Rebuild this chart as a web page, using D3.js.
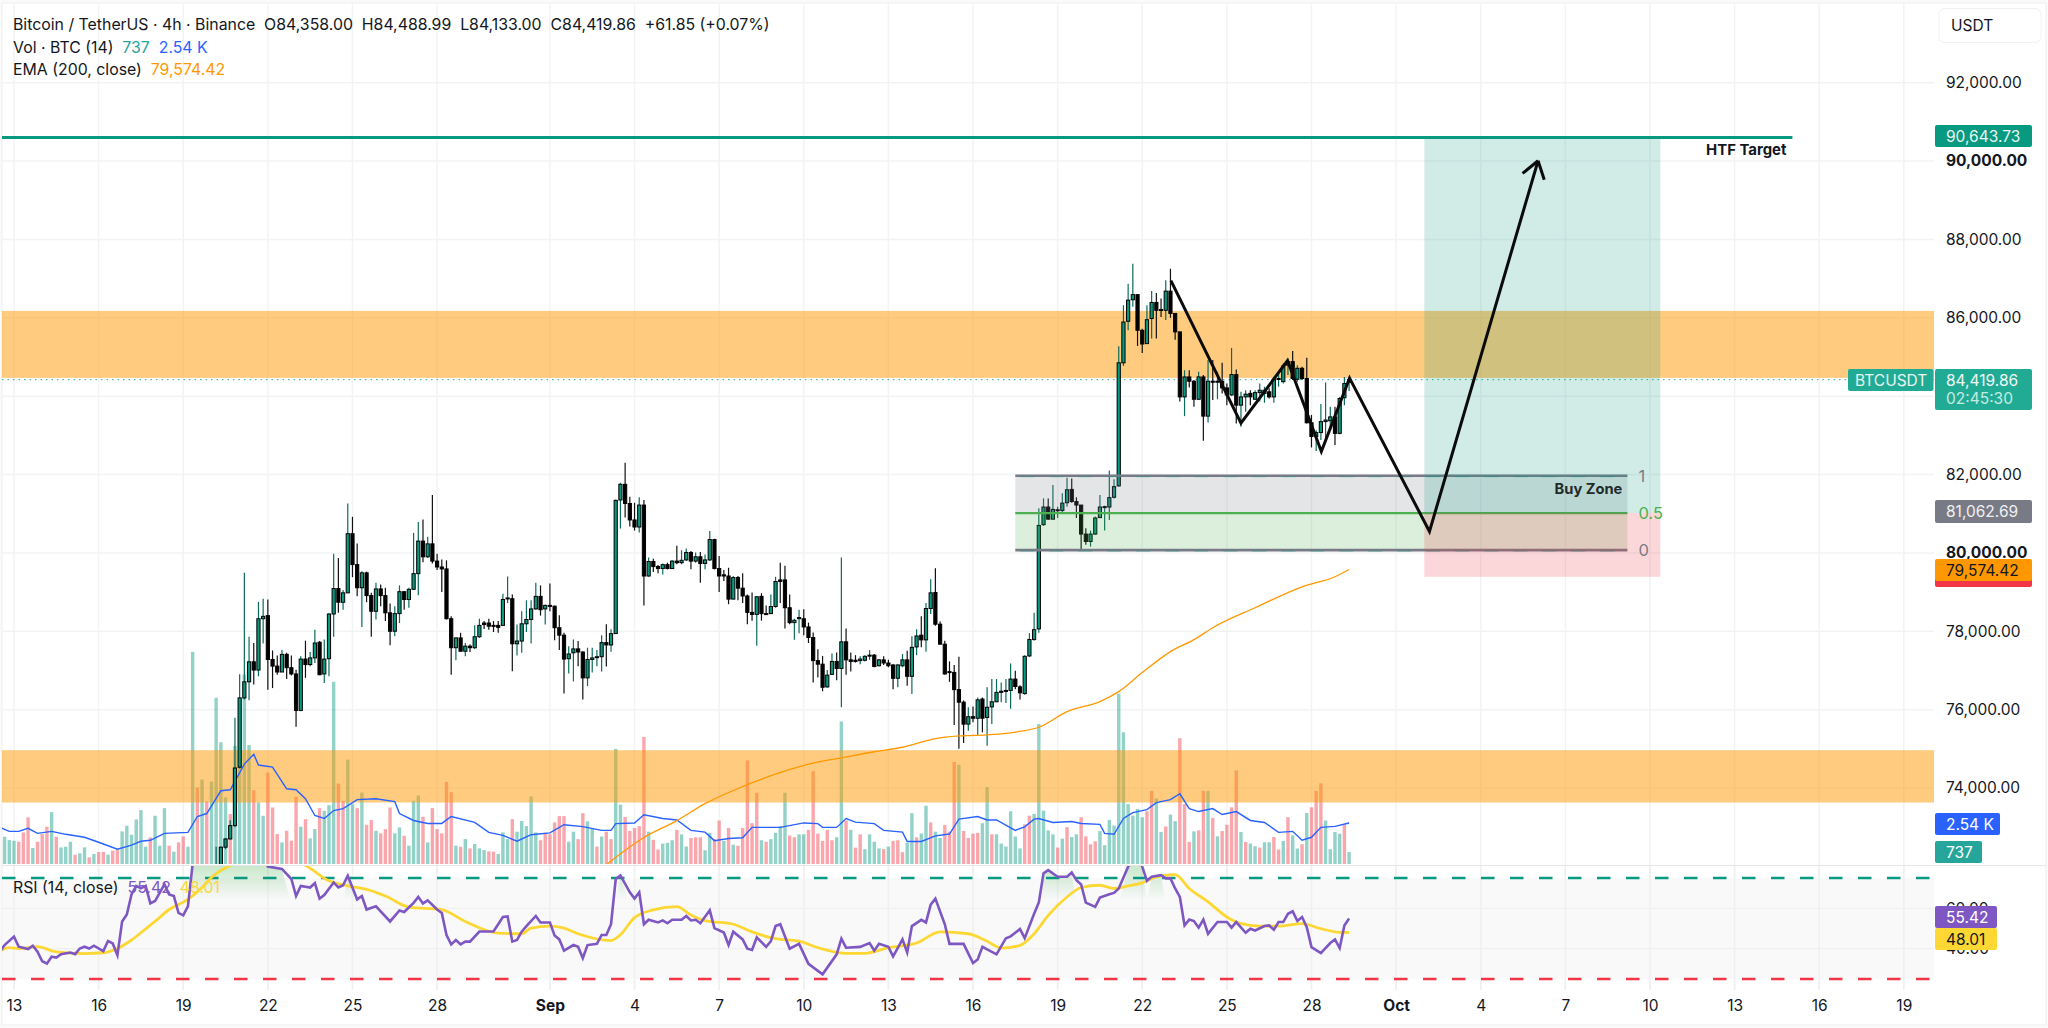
<!DOCTYPE html>
<html>
<head>
<meta charset="utf-8">
<title>BTCUSDT 4h</title>
<script src="https://cdn.jsdelivr.net/npm/d3@7"></script>
<style>
  html, body { margin: 0; padding: 0; background: #fafafa; }
  svg { display: block; font-family: Inter, "Noto Sans", sans-serif; }
  .domain { display: none; }
</style>
</head>
<body>
<svg id="chart" width="2048" height="1028"></svg>
<script>
// candle index 0 = Aug 13 00:00, six 4h bars a day. Candles before 43 sit under the pane.
var candleStart = 43;
var opens = [
  71800,72000,72490,72700,73040,74530,76300,76710,77220,77010,78320,78400,77280,77110,76960,77410,77070,
  76910,75980,77290,77150,77320,77720,76910,77300,78440,79090,78740,78980,80490,79700,79110,79490,78910,
  78510,79080,78910,78470,78000,78450,79010,78810,79070,79470,80300,79900,80230,79790,79640,79590,78320,
  77580,77830,77490,77620,77580,77860,78210,78210,78150,78150,78150,78830,78830,77680,77750,78190,78300,
  78570,78890,78570,78660,78640,78090,77900,77300,77450,77550,77470,76810,77280,77330,77350,77710,77650,
  77940,81350,81750,81260,80840,80660,81220,79410,79780,79650,79600,79700,79600,79790,79750,79820,80010,
  79790,79900,79730,79820,80340,79600,79440,79410,78820,79370,79100,78900,78480,78430,78890,78450,78450,
  78630,79310,79310,78600,78220,78320,78320,78110,77840,77250,77160,76580,76900,77230,77050,77730,77270,
  77260,77250,77260,77370,77390,77120,77270,77190,77140,76800,77120,77270,76850,77600,77900,77780,78580,
  78990,78180,77670,76970,76950,76510,76190,75630,75820,75780,76270,75800,76070,76200,76440,76470,76490,
  76780,76580,76410,77370,77790,78060,80720,81170,80860,81100,81080,81280,81620,81310,81220,80480,80290,
  80480,80900,81170,81170,81420,81710,84850,85910,86460,86590,85680,85340,85980,86390,86210,86190,86680,
  86110,85640,83980,84490,84380,83920,84490,83490,84380,84370,84380,84210,84030,84550,83770,83980,84070,
  83920,84090,84070,84110,83980,84430,84370,84790,84880,84430,84710,84450,83320,82970,83070,83350,83370,
  83470,83050,83960,84358
];
var highs = [
  72500,72500,72720,73180,75790,76900,79490,77860,77700,78750,78830,78810,77510,77380,77520,77450,77380,
  77020,77360,77760,77470,78040,77750,77790,78460,79980,79870,79050,81260,80920,80240,79530,79520,78980,
  79240,79190,79110,78710,78640,79170,79020,79110,80510,80790,80850,80410,81480,79980,79830,79810,78380,
  77840,77960,77700,77660,78150,78320,78260,78320,78260,78260,78960,79400,78940,78170,78510,78790,78790,
  79240,79170,78680,79220,78660,78410,77960,77620,77790,77750,77490,77580,77580,77520,77900,78180,78050,
  81360,81790,82300,81430,81280,81420,81350,79880,79850,79690,79730,79750,79810,80180,80070,80110,80050,
  80010,80020,79960,80560,80360,79920,79560,79620,79410,79410,79480,78940,78990,78900,78970,78660,78940,
  79390,79750,79670,78940,78320,78550,78560,78220,77970,77540,77370,77010,77430,77460,79880,78070,77460,
  77390,77360,77390,77520,77420,77290,77360,77270,77160,77160,77420,77500,77870,78050,78380,78720,79330,
  79610,78250,77760,77230,77140,77350,76230,76060,76080,76310,76310,76570,76780,76780,76690,76780,77180,
  76990,76620,77390,77950,78470,81140,81390,81390,81730,81180,81520,81920,81900,81420,81220,80630,80570,
  80930,81480,81200,82100,81880,85270,86320,86870,87380,86590,85720,86320,86680,86630,86490,86960,87250,
  86110,85640,84660,84660,84410,84620,84540,84920,84920,84620,84850,84320,85230,84680,84110,84150,84150,
  84150,84320,84240,84200,84490,84560,84830,84960,85150,84790,84750,84980,83520,83130,83800,84350,83730,
  83730,83980,84490,84489
];
var lows = [
  71500,71800,72440,72690,73000,74500,76260,76240,76640,76850,77690,76510,76550,76890,76960,76780,76870,
  75560,75960,76810,77110,77190,76880,76680,76850,77860,78470,78550,78980,79380,78890,78110,78740,77860,
  78300,78640,78260,77640,77870,78210,78550,78600,79070,78920,79760,79870,79730,79560,79000,78300,76890,
  77260,77480,77360,77470,77550,77830,78060,78040,77980,77960,78150,78720,76980,77380,77450,77980,77690,
  78550,78400,78170,78510,77770,77520,76410,76920,76720,77110,76260,76600,76950,77110,76970,77100,77480,
  77930,80620,80900,80670,80570,80520,78660,79390,79510,79480,79450,79580,79600,79710,79710,79790,79580,
  79750,79240,79580,79790,79580,79000,79280,78690,78820,78790,78720,78180,78270,77630,78270,78420,78440,
  78600,78720,78070,78180,77780,77950,77900,77700,76690,76820,76470,76560,76890,76750,76060,76890,76970,
  77200,77160,77230,77270,77080,77100,77140,77080,76520,76570,77080,76610,76400,77390,77590,77480,78440,
  78140,77670,76890,76710,75610,75000,75150,75460,75680,75360,75420,75080,75630,76190,76190,76170,76020,
  76520,76260,76380,77340,77760,77960,80690,80850,80860,80890,81010,81180,81280,80890,80100,80210,80160,
  80460,80890,80570,80840,81390,81690,84770,85680,86280,85280,85100,85330,85470,85470,86020,85940,86000,
  85440,83860,83490,84220,83730,83900,82860,83330,83900,83920,84070,83770,84010,83300,83220,83600,83770,
  83920,83860,83830,83940,83830,84240,84320,84540,84410,84370,84410,83300,82690,82600,82880,82920,83220,
  82750,83030,83770,84133
];
var closes = [
  72000,72490,72700,73040,74510,76300,76710,77220,77010,78320,78380,77280,77110,76960,77410,77070,76910,
  75980,77290,77150,77320,77700,76890,77290,78440,79090,78740,78980,80490,79700,79110,79490,78910,78510,
  79080,78910,78470,78000,78450,79010,78810,79070,79470,80300,79900,80230,79790,79640,79590,78320,77580,
  77830,77490,77620,77580,77860,78150,78170,78130,78130,78100,78810,78850,77680,77750,78190,78300,78570,
  78890,78550,78660,78640,78090,77900,77290,77420,77550,77470,76810,77280,77320,77350,77710,77650,77940,
  81340,81750,81260,80840,80660,81220,79410,79780,79650,79600,79700,79600,79790,79750,79810,80010,79790,
  79900,79730,79820,80340,79600,79410,79410,78820,79370,79100,78900,78480,78430,78880,78450,78440,78630,
  79270,79270,78600,78220,78280,78350,78110,77840,77250,77160,76570,76880,77230,77050,77730,77270,77230,
  77230,77290,77360,77390,77100,77270,77190,77120,76800,77140,77270,76850,77590,77880,77780,78580,78980,
  78180,77670,76910,76950,76510,76190,75630,75820,75780,76250,75780,76060,76200,76440,76470,76490,76780,
  76590,76430,77360,77790,78040,80700,81170,80860,81110,81100,81270,81610,81310,81220,80480,80290,80480,
  80890,81170,81180,81410,81690,84850,85890,86450,86590,85680,85330,85950,86390,86190,86190,86680,86110,
  85640,83980,84490,84380,83920,84490,83490,84380,84370,84380,84210,84030,84550,83770,83980,84050,83980,
  84090,84150,84150,83980,84430,84450,84770,84880,84450,84710,84450,83320,82970,83070,83350,83390,83470,
  83050,83940,84320,84420
];

// volume bars start two bars left of Aug 13
var volumeStart = -2;
var volumes = [
  1689,1483,1442,1380,1957,2884,989,1380,1854,2307,3214,1689,1030,1071,1380,577,659,1030,412,618,742,742,577,824,906,
  2019,2369,1813,2760,3337,1071,1648,2987,1133,3461,1133,762,1339,1710,1071,13143,4738,5232,3873,5109,10300,7540,4120,
  3090,7313,5974,11742,7375,4573,3811,2987,5665,3502,1854,1339,2060,1442,4161,2307,2781,1586,2163,3461,3296,3646,11289,
  4985,3914,6468,3708,3461,4429,2431,2719,2060,1895,2163,3502,1895,2266,1751,1133,3914,4244,2925,1339,3461,2163,1895,
  5088,4450,1133,1071,1545,968,1236,968,865,783,762,618,1957,1545,2781,1998,
  2668,2346,4186,1955,1472,1932,1840,2576,2967,2967,1380,2001,1541,3151,2645,2231,1081,1702,2001,1541,7130,3680,2921,
  2047,2231,2346,7866,2001,1495,897,1265,1311,1472,2116,1840,1081,1610,1656,1656,851,1932,1541,2691,1426,2231,1196,1127,
  2231,6417,2530,4416,1472,1380,1541,1932,2346,4416,1771,1656,1840,1840,2116,5750,1886,1426,2116,1472,1656,8832,2691,
  2116,1012,1840,920,1840,1380,966,920,1081,1426,1472,736,1311,3151,1656,1886,3611,2576,2001,1610,2415,2001,6325,6141,
  2047,1610,1886,1932,2530,4761,1840,1840,1265,1081,3266,1702,966,2461,2990,3105,8671,
  3305,2081,1836,1020,1571,2285,1673,1836,2897,1714,1224,1408,2040,1163,2734,2387,10547,8160,3713,2999,3407,2897,3264,
  4529,4060,1979,2326,3060,2652,7793,3713,1367,2020,2081,4529,4529,2856,1714,2040,2428,3509,5794,1979,1367,1265,1102,
  1020,1346,1346,1673,898,1428,2897,1775,959,1224,3162,3509,4529,4998,2693,918,1979,1877,2448,737
];
// 1 = green bar, 0 = red bar
var volumeUp = [
  1,1,1,0,0,0,1,0,0,0,1,0,1,1,1,0,1,1,0,1,0,0,1,0,0,
  1,1,1,1,1,1,0,1,1,1,0,1,0,0,1,1,0,1,0,1,1,1,1,
  0,1,1,1,1,0,1,1,0,0,0,1,0,0,0,1,0,1,1,0,1,1,1,
  0,0,1,1,0,1,0,0,1,0,0,0,1,1,0,1,1,1,0,1,0,0,0,
  0,0,1,0,1,0,1,1,1,0,0,1,1,1,0,1,
  1,1,1,1,0,0,0,0,0,0,1,1,0,0,1,1,0,1,0,0,1,1,0,
  0,0,0,0,1,0,0,1,1,1,0,1,1,0,0,0,1,1,0,0,1,0,1,0,0,
  0,0,0,1,0,1,1,1,1,0,0,1,1,0,0,0,0,0,0,1,1,0,1,0,
  0,1,1,1,1,0,1,0,0,0,1,1,0,1,1,0,1,1,0,0,0,1,0,0,
  0,0,1,1,0,1,1,1,1,1,1,0,0,1,1,1,1,
  1,0,1,0,1,1,0,0,0,0,1,1,1,1,1,1,1,1,1,1,0,0,1,
  1,0,1,1,0,0,0,1,0,0,1,0,1,0,0,0,0,1,0,1,1,0,1,
  1,0,0,1,0,1,1,0,1,0,0,0,1,1,1,1,0,1,1,1
];
var volMaIdx = [-3,-1,1,3,5,8,11,15,18,22,25,27,29,32,37,39,41,44,46,49,51,52,55,58,60,62,64,66,68,70,73,77,81,82,85,88,91,93,98,101,104,107,
  110,114,117,121,125,127,128,132,134,138,141,144,147,149,152,155,157,163,168,171,172,175,177,179,183,185,189,190,193,196,199,201,205,207,209,213,215,217,218,
  221,225,227,231,232,234,236,238,241,243,246,248,250,252,255,257,260,263,266,269,272,274,276,278,281,284];
var volMa = [2268,2023,2023,2207,1900,2023,1839,1655,1349,920,1165,1410,1471,1900,1962,2942,3126,4536,4598,6191,6804,6130,6007,4659,4598,4046,3004,2820,3310,3433,3985,4046,3862,3126,2697,2513,2513,2942,2575,1962,1778,1410,
  1814,1925,2434,2317,2084,2084,2501,2544,3053,2820,2728,2084,1974,1447,1582,1624,2268,2268,2544,2501,2268,2268,2820,2593,2501,2084,1974,1398,1398,1741,1857,2777,2942,2728,2728,2084,2301,2777,2820,
  2575,2636,2513,2452,1900,1839,2820,3188,3372,3800,3985,4352,3433,3249,3433,3065,3249,2697,2575,1962,2023,1471,1655,2268,2329,2540];

var emaIdx = [126,134,141,147,153,159,164,170,176,183,189,196,201,207,214,218,224,231,235,240,246,251,255,264,274,281,284];
var ema = [72045,72736,73168,73600,73936,74224,74435,74637,74771,74925,75040,75261,75328,75357,75443,75550,75950,76205,76460,76945,77480,77785,78090,78600,79135,79390,79574.42];

var rsiIdx = [-3,-2,0,1,3,4,5,6,7,8,9,10,12,13,14,15,16,17,19,20,21,22,23,24,25,26,27,28,29,30,32,33,34,35,36,37,38,39,41,44,48,51,53,54,57,59,60,61,63,64,65,66,68,69,70,71,73,74,75,77,78,80,82,83,85,86,87,88,90,91,92,93,94,95,96,97,99,101,102,104,105,106,107,
  108,109,111,112,114,115,116,117,119,120,121,122,124,125,126,127,128,129,131,132,133,134,135,137,138,139,140,142,143,144,145,146,148,149,151,152,153,155,156,157,158,160,161,162,163,165,167,169,172,175,176,177,180,182,183,184,186,187,189,190,191,193,194,195,196,198,199,202,204,205,206,209,211,212,214,215,217,218,
  219,220,222,224,225,226,227,228,230,231,233,234,235,237,239,240,241,242,244,245,246,247,248,249,250,251,252,253,254,256,258,259,260,262,263,264,266,267,268,269,270,271,272,273,274,275,276,278,280,281,282,283,284];
var rsi = [38.5,41.8,46,41,39.8,41.5,38.5,33.8,32.6,36,35.6,37.3,38.1,37.3,40.1,41,40.1,41.5,38.8,43.8,42.6,36.8,53.5,56.9,66.9,71.1,69.9,71.1,62.4,63.6,71.9,66.9,66.1,57.7,56.5,61,82,86,90,92,93,88,85,80.7,79.5,74.5,66.1,71.1,70.3,72.5,64.8,66.6,72.8,70.3,71.4,76.1,64.4,66.1,59.4,61,58.5,53.5,58.9,58.2,62.7,65.6,62.4,63.9,59.4,57.7,46.8,42.1,44.3,42.1,43.5,43.5,48.5,48.5,48.5,55.7,56,43.5,44.3,
  48.4,51.2,56.2,53,53,46.5,44.6,39,41.8,40.9,35.3,41.8,42.4,46.8,46.8,52.1,74.5,76.3,67.9,64.8,67.9,52.1,54.3,53,54,52.6,54.3,54.3,56.2,54,54.3,52.6,59,50.2,48,41.8,48.4,44.6,40,39.4,45.6,40.9,43.7,51.2,52.1,40,42.4,32.5,27.3,37.2,45,40.5,40.9,42.8,39,42.4,40.9,36.2,44.6,38.1,51.2,54.3,53,61.8,64.8,52.1,42.4,42.4,32.9,34.7,40.9,37.2,45.2,46.1,49.7,45.2,57.3,62.9,77.3,
  78.9,75.6,75.6,77.7,73.9,71.8,62.8,60.7,65.3,67,67.6,69.8,80.6,87.2,80.6,73.6,75.6,76.4,74.8,74.8,69.8,65.6,51.5,54.4,53.7,50.4,54.4,47.4,53.2,53.2,50.4,53.2,47.9,49.9,49,51.2,51.5,49.4,53.2,53.2,57.3,58.5,53.7,55.7,50.7,40.8,37.8,42.8,44.6,40.3,51.5,54.9,55.42];
var rsiMaIdx = [-3,-1,1,5,9,15,19,22,25,28,30,33,37,40,42,46,48,50,54,58,62,67,71,75,79,84,91,96,103,108,110,114,117,120,127,129,132,136,141,144,147,153,157,162,167,171,177,181,186,192,197,203,207,210,214,217,220,224,227,231,234,237,240,243,247,250,254,258,261,265,269,274,278,282,284];
var rsiMa = [38.9,40.5,40.1,41,38.4,37.6,38,40.1,44.3,49.8,53.5,59.4,64.4,70.3,75.3,81.2,83,85,86,84,81.2,73.6,71.1,69.4,66.1,60.6,59.4,53.5,47.7,47.4,50.2,51.2,50.2,47.4,44,46.9,55.4,59.2,60.8,56.7,53.9,52.1,48.3,45,43.7,40.5,37.7,37.7,40.5,42.8,48.3,47.4,43.7,40.3,41.6,47.4,56.5,65.6,70.3,71.4,69.8,71.1,72.6,75.6,76.7,69.8,63.2,55.7,52.4,51.2,51.2,52.4,49.9,48.1,48.01];

// axis ticks
var priceTicks = [92000,90000,88000,86000,84000,82000,80000,78000,76000,74000];
var boldPrices = [90000,80000];
var rsiTicks = [60,40];
var dayTicks = [0,3,6,9,12,15,19,22,25,28,31,34,37,40,43,46,49,52,55,58,61,64,67];
var dayLabels = ["13","16","19","22","25","28","Sep","4","7","10","13","16","19","22","25","28","Oct","4","7","10","13","16","19"];

// drawings, as [bar index, price]
var zoneUpper = [86175, 84465];
var zoneLower = [74965, 73630];
var targetPrice = 90600;
var entryPrice = 81020;
var stopPrice = 79390;
var positionBars = [300, 350.2];
var fibBars = [213, 343.2];
var fibLevels = [81968, 81015, 80070];
var targetLineEnd = 378.3;
var pathBars = [246.1, 261, 270.9, 278.1, 284.1, 301.1, 324.2];
var pathPrices = [86947, 83311, 84907, 82587, 84458, 80547, 90007];

var teal = "#089981", red = "#f23645", gridColor = "#f2f3f4";
var paneRight = 1934, paneTop = 4, paneBottom = 864, rsiBottom = 990;

var svg = d3.select("#chart");
var x = d3.scaleLinear().domain([0, 402]).range([14, 14 + 402 * 4.701]);
var y = d3.scaleLinear().domain([90000, 74000]).range([161, 788]);
var yVol = d3.scaleLinear().domain([0, 2540]).range([864, 823]);
var yRsi = d3.scaleLinear().domain([25, 75]).range([979, 878]);

var defs = svg.append("defs");
defs.append("clipPath").attr("id", "mainClip").append("rect")
  .attr("x", 2).attr("y", paneTop).attr("width", paneRight - 2).attr("height", paneBottom - paneTop);
defs.append("clipPath").attr("id", "rsiClip").append("rect")
  .attr("x", 2).attr("y", 866).attr("width", paneRight - 2).attr("height", rsiBottom - 866);
var grad = defs.append("linearGradient").attr("id", "obFill")
  .attr("gradientUnits", "userSpaceOnUse").attr("x1", 0).attr("x2", 0).attr("y1", 866).attr("y2", 900);
grad.append("stop").attr("offset", 0).attr("stop-color", "#4caf50").attr("stop-opacity", 0.3);
grad.append("stop").attr("offset", 1).attr("stop-color", "#4caf50").attr("stop-opacity", 0);

// frame
svg.append("rect").attr("x", 2).attr("y", 3).attr("width", 2044).attr("height", 1022)
  .attr("fill", "#fff").attr("stroke", "#ededee");

// grid
var grid = svg.append("g");
grid.selectAll(".hg").data(priceTicks).enter().append("line")
  .attr("x1", 2).attr("x2", paneRight).attr("y1", y).attr("y2", y)
  .attr("stroke", gridColor).attr("stroke-width", 1.5);
grid.selectAll(".vg").data(dayTicks).enter().append("line")
  .attr("x1", function(d) { return x(d * 6); }).attr("x2", function(d) { return x(d * 6); })
  .attr("y1", 4).attr("y2", rsiBottom)
  .attr("stroke", gridColor).attr("stroke-width", 1.5);

var main = svg.append("g").attr("clip-path", "url(#mainClip)");

// volume
main.selectAll(".vol").data(volumes).enter().append("rect")
  .attr("x", function(d, i) { return x(i + volumeStart) - 1.7; })
  .attr("width", 3.4)
  .attr("y", function(d) { return yVol(d); })
  .attr("height", function(d) { return 864 - yVol(d); })
  .attr("fill", function(d, i) { return volumeUp[i] ? teal : red; })
  .attr("fill-opacity", 0.44);

// orange zones
[zoneUpper, zoneLower].forEach(function(z) {
  main.append("rect").attr("x", 2).attr("width", paneRight - 2)
    .attr("y", y(z[0])).attr("height", y(z[1]) - y(z[0]))
    .attr("fill", "#ff9800").attr("fill-opacity", 0.5);
});

// volume average
main.append("path")
  .datum(volMa)
  .attr("fill", "none").attr("stroke", "#2962ff").attr("stroke-width", 1.4)
  .attr("d", d3.line().x(function(d, i) { return x(volMaIdx[i]); }).y(function(d) { return yVol(d); }));

// last price dotted line
main.append("line").attr("x1", 2).attr("x2", paneRight)
  .attr("y1", y(closes[closes.length - 1])).attr("y2", y(closes[closes.length - 1]))
  .attr("stroke", "#22ab94").attr("stroke-width", 1).attr("stroke-dasharray", "1.5,4");

// candles
var candle = main.selectAll(".candle").data(closes).enter().append("g");
candle.append("line")
  .attr("x1", function(d, i) { return x(i + candleStart); })
  .attr("x2", function(d, i) { return x(i + candleStart); })
  .attr("y1", function(d, i) { return y(highs[i]); })
  .attr("y2", function(d, i) { return y(lows[i]); })
  .attr("stroke", function(d, i) { return d >= opens[i] ? "#0b6b5c" : "#111"; })
  .attr("stroke-width", 1.2);
candle.append("rect")
  .attr("x", function(d, i) { return x(i + candleStart) - 1.6; })
  .attr("width", 3.2)
  .attr("y", function(d, i) { return y(Math.max(d, opens[i])); })
  .attr("height", function(d, i) { return Math.max(Math.abs(y(d) - y(opens[i])), 1); })
  .attr("fill", function(d, i) { return d >= opens[i] ? teal : "#000"; })
  .attr("stroke", "#000").attr("stroke-width", 1);

// EMA 200
main.append("path")
  .datum(ema)
  .attr("fill", "none").attr("stroke", "#ff9800").attr("stroke-width", 1.3)
  .attr("d", d3.line().x(function(d, i) { return x(emaIdx[i]); }).y(function(d) { return y(d); })
    .curve(d3.curveMonotoneX));

// buy zone fib
var fx0 = x(fibBars[0]), fx1 = x(fibBars[1]);
main.append("rect").attr("x", fx0).attr("width", fx1 - fx0)
  .attr("y", y(fibLevels[0])).attr("height", y(fibLevels[1]) - y(fibLevels[0]))
  .attr("fill", "#787b86").attr("fill-opacity", 0.2);
main.append("rect").attr("x", fx0).attr("width", fx1 - fx0)
  .attr("y", y(fibLevels[1])).attr("height", y(fibLevels[2]) - y(fibLevels[1]))
  .attr("fill", "#4caf50").attr("fill-opacity", 0.2);
[fibLevels[0], fibLevels[2]].forEach(function(p) {
  main.append("line").attr("x1", fx0).attr("x2", fx1).attr("y1", y(p)).attr("y2", y(p))
    .attr("stroke", "#787b86").attr("stroke-width", 2.6);
  main.append("line").attr("x1", fx0 + 5).attr("x2", fx1).attr("y1", y(p) + 1).attr("y2", y(p) + 1)
    .attr("stroke", teal).attr("stroke-opacity", 0.4).attr("stroke-width", 1).attr("stroke-dasharray", "14,15");
});
main.append("line").attr("x1", fx0).attr("x2", fx1).attr("y1", y(fibLevels[1])).attr("y2", y(fibLevels[1]))
  .attr("stroke", "#4caf50").attr("stroke-width", 2.4);

// long position box
var px0 = x(positionBars[0]), px1 = x(positionBars[1]);
main.append("rect").attr("x", px0).attr("width", px1 - px0)
  .attr("y", y(targetPrice)).attr("height", y(entryPrice) - y(targetPrice))
  .attr("fill", teal).attr("fill-opacity", 0.19);
main.append("rect").attr("x", px0).attr("width", px1 - px0)
  .attr("y", y(entryPrice)).attr("height", y(stopPrice) - y(entryPrice))
  .attr("fill", red).attr("fill-opacity", 0.2);

// fib labels
function fibLabel(txt, p, color) {
  main.append("text").attr("x", fx1 + 11).attr("y", y(p)).attr("dy", "0.36em")
    .attr("font-size", 16.5).attr("fill", color).text(txt);
}
fibLabel("1", fibLevels[0], "#787b86");
fibLabel("0.5", fibLevels[1], "#4caf50");
fibLabel("0", fibLevels[2], "#787b86");
main.append("text").attr("x", fx1 - 5).attr("y", y(fibLevels[0]) + 13).attr("dy", "0.36em")
  .attr("text-anchor", "end").attr("font-size", 14.7).attr("font-weight", 700)
  .attr("fill", "#1f2a2a").text("Buy Zone");

// target line
main.append("line").attr("x1", 2).attr("x2", x(targetLineEnd))
  .attr("y1", y(targetPrice)).attr("y2", y(targetPrice))
  .attr("stroke", teal).attr("stroke-width", 3);
main.append("text").attr("x", x(targetLineEnd) - 6).attr("y", y(targetPrice) + 12).attr("dy", "0.36em")
  .attr("text-anchor", "end").attr("font-size", 14.9).attr("font-weight", 700)
  .attr("fill", "#131722").text("HTF Target");

// hand drawn path with arrow head
main.append("path")
  .datum(pathBars)
  .attr("fill", "none").attr("stroke", "#0b0b0b").attr("stroke-width", 3).attr("stroke-linejoin", "miter")
  .attr("d", d3.line().x(function(d) { return x(d); }).y(function(d, i) { return y(pathPrices[i]); }));
var n = pathBars.length;
var tipX = x(pathBars[n - 1]), tipY = y(pathPrices[n - 1]);
var ang = Math.atan2(tipY - y(pathPrices[n - 2]), tipX - x(pathBars[n - 2]));
[-0.6, 0.6].forEach(function(off) {
  main.append("line").attr("x1", tipX).attr("y1", tipY)
    .attr("x2", tipX - 20 * Math.cos(ang + off)).attr("y2", tipY - 20 * Math.sin(ang + off))
    .attr("stroke", "#0b0b0b").attr("stroke-width", 3);
});

// RSI pane
svg.append("line").attr("x1", 2).attr("x2", 2046).attr("y1", 865.5).attr("y2", 865.5).attr("stroke", "#e6e6e8");
var pane = svg.append("g").attr("clip-path", "url(#rsiClip)");
pane.append("rect").attr("x", 2).attr("width", paneRight - 2)
  .attr("y", yRsi(75)).attr("height", yRsi(25) - yRsi(75)).attr("fill", "#f7f7f8").attr("fill-opacity", 0.75);
pane.selectAll(".rg").data(rsiTicks).enter().append("line")
  .attr("x1", 2).attr("x2", paneRight).attr("y1", yRsi).attr("y2", yRsi)
  .attr("stroke", "#eeeeef");
pane.selectAll(".rv").data(dayTicks).enter().append("line")
  .attr("x1", function(d) { return x(d * 6); }).attr("x2", function(d) { return x(d * 6); })
  .attr("y1", 866).attr("y2", rsiBottom)
  .attr("stroke", "#f0f0f1").attr("stroke-width", 1.5);
pane.append("path")
  .datum(rsi)
  .attr("fill", "url(#obFill)")
  .attr("d", d3.area()
    .x(function(d, i) { return x(rsiIdx[i]); })
    .y0(yRsi(62))
    .y1(function(d) { return d >= 75 ? yRsi(d) : yRsi(62); }));
[[75, teal], [25, red]].forEach(function(l) {
  pane.append("line").attr("x1", 2).attr("x2", paneRight)
    .attr("y1", yRsi(l[0])).attr("y2", yRsi(l[0]))
    .attr("stroke", l[1]).attr("stroke-width", 2.4).attr("stroke-dasharray", "13.5,15.5");
});
pane.append("path")
  .datum(rsiMa)
  .attr("fill", "none").attr("stroke", "#fdd835").attr("stroke-width", 2.8)
  .attr("d", d3.line().x(function(d, i) { return x(rsiMaIdx[i]); }).y(function(d) { return yRsi(d); })
    .curve(d3.curveMonotoneX));
pane.append("path")
  .datum(rsi)
  .attr("fill", "none").attr("stroke", "#7e57c2").attr("stroke-width", 2.6)
  .attr("d", d3.line().x(function(d, i) { return x(rsiIdx[i]); }).y(function(d) { return yRsi(d); }));

// legend rows
function legend(px, py, parts) {
  var t = svg.append("text").attr("x", px).attr("y", py).attr("dy", "0.36em")
    .attr("font-size", 15.85).attr("fill", "#131722").attr("xml:space", "preserve");
  parts.forEach(function(p) {
    t.append("tspan").attr("fill", p[1] || "#131722").text(p[0]);
  });
}
legend(13, 24, [["Bitcoin / TetherUS \u00b7 4h \u00b7 Binance  O84,358.00  H84,488.99  L84,133.00  C84,419.86  +61.85 (+0.07%)"]]);
legend(13, 47, [["Vol \u00b7 BTC (14)  "], ["737", "#26a69a"], ["  "], ["2.54 K", "#2962ff"]]);
legend(13, 69, [["EMA (200, close)  "], ["79,574.42", "#ff9800"]]);
legend(13, 887, [["RSI (14, close)  "], ["55.42", "#7e57c2"], ["  "], ["48.01", "#fdd835"]]);

// price axis
var priceAxis = d3.axisRight(y).tickValues(priceTicks).tickSize(0).tickPadding(0)
  .tickFormat(d3.format(",.2f"));
var gPrice = svg.append("g").attr("transform", "translate(1946,0)").call(priceAxis);
gPrice.selectAll("text")
  .attr("font-family", "Inter").attr("font-size", 15.5).attr("fill", "#131722")
  .attr("font-weight", function(d) { return boldPrices.indexOf(d) >= 0 ? 700 : 400; });

var rsiAxis = d3.axisRight(yRsi).tickValues(rsiTicks).tickSize(0).tickPadding(0)
  .tickFormat(d3.format(".2f"));
var gRsi = svg.append("g").attr("transform", "translate(1946,0)").call(rsiAxis);
gRsi.selectAll("text").attr("font-family", "Inter").attr("font-size", 15.5).attr("fill", "#131722");

// time axis
var timeAxis = d3.axisBottom(d3.scaleLinear().domain(x.domain().map(function(d) { return d / 6; })).range(x.range()))
  .tickValues(dayTicks).tickSize(0).tickPadding(0)
  .tickFormat(function(d, i) { return dayLabels[i]; });
var gTime = svg.append("g").attr("transform", "translate(0,1000)").call(timeAxis);
gTime.selectAll("text")
  .attr("font-family", "Inter").attr("font-size", 15.5).attr("fill", "#131722")
  .attr("font-weight", function(d, i) { return isNaN(+dayLabels[i]) ? 700 : 400; });

// USDT button
svg.append("rect").attr("x", 1939).attr("y", 8.5).attr("width", 102).attr("height", 34).attr("rx", 6)
  .attr("fill", "#fff").attr("stroke", "#f0f1f2");
svg.append("text").attr("x", 1951).attr("y", 25.5).attr("dy", "0.36em")
  .attr("font-size", 15.5).attr("fill", "#131722").text("USDT");

// price tags
function tag(cy, w, h, fill, txt, color) {
  var g = svg.append("g");
  g.append("rect").attr("x", 1935).attr("y", cy - h / 2).attr("width", w).attr("height", h).attr("rx", 2).attr("fill", fill);
  g.append("text").attr("x", 1946).attr("y", cy).attr("dy", "0.36em")
    .attr("font-size", 15.5).attr("fill", color).text(txt);
}
tag(136, 97, 22, teal, "90,643.73", "#e8f6f3");
tag(511.5, 97, 23, "#787b86", "81,062.69", "#f0f0f2");
tag(576, 97, 22, red, "", "#fff");
tag(570, 97, 22, "#ff9800", "79,574.42", "#131722");
tag(824, 65, 22, "#2962ff", "2.54 K", "#fff");
tag(852, 47, 22, "#26a69a", "737", "#fff");
tag(917, 62, 22, "#7e57c2", "55.42", "#fff");
tag(939, 62, 22, "#fdd835", "48.01", "#131722");

// BTCUSDT tag and the two line price tag
svg.append("rect").attr("x", 1848).attr("y", 369).attr("width", 85.5).attr("height", 22).attr("rx", 2).attr("fill", "#22ab94");
svg.append("text").attr("x", 1855).attr("y", 380).attr("dy", "0.36em").attr("font-size", 15.5).attr("fill", "#e8f6f3").text("BTCUSDT");
svg.append("rect").attr("x", 1935).attr("y", 369).attr("width", 97).attr("height", 41).attr("rx", 2).attr("fill", "#22ab94");
svg.append("text").attr("x", 1946).attr("y", 380).attr("dy", "0.36em").attr("font-size", 15.5).attr("fill", "#f0faf8").text("84,419.86");
svg.append("text").attr("x", 1946).attr("y", 398).attr("dy", "0.36em").attr("font-size", 15.5).attr("fill", "#c4ebe3").text("02:45:30");
</script>
</body>
</html>
